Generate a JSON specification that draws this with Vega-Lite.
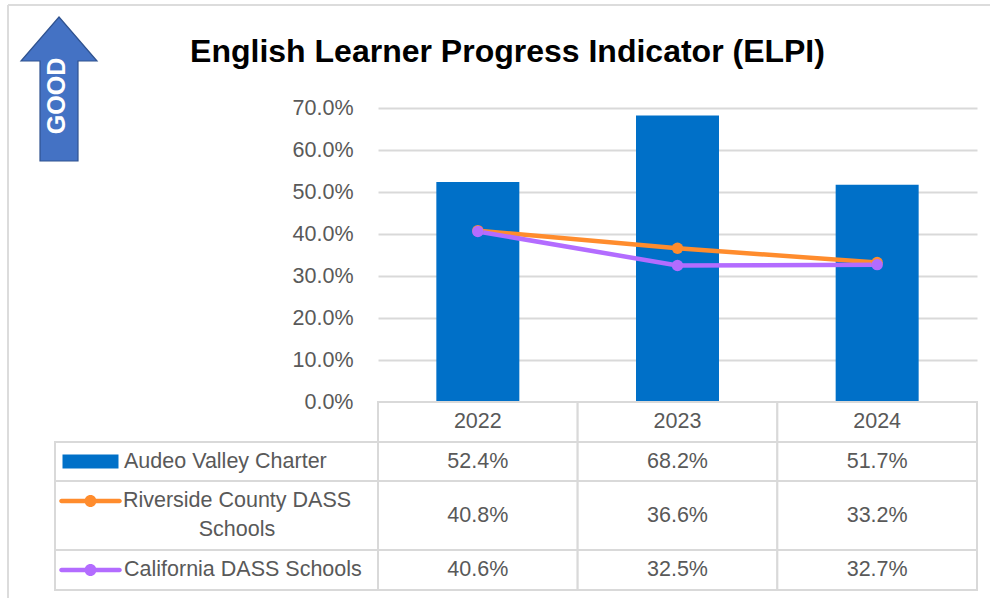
{
  "$schema": "https://vega.github.io/schema/vega-lite/v6.json",
  "autosize": {"type": "pad"},
  "padding": {"left": 7, "top": 4, "right": 0, "bottom": 0},
  "background": "white",
  "datasets": {
    "elpi": [
      {"year": "2022", "series": "Audeo Valley Charter", "value": 0.524},
      {"year": "2023", "series": "Audeo Valley Charter", "value": 0.682},
      {"year": "2024", "series": "Audeo Valley Charter", "value": 0.517},
      {"year": "2022", "series": "Riverside County DASS Schools", "value": 0.408},
      {"year": "2023", "series": "Riverside County DASS Schools", "value": 0.366},
      {"year": "2024", "series": "Riverside County DASS Schools", "value": 0.332},
      {"year": "2022", "series": "California DASS Schools", "value": 0.406},
      {"year": "2023", "series": "California DASS Schools", "value": 0.325},
      {"year": "2024", "series": "California DASS Schools", "value": 0.327}
    ]
  },
  "columns": 2,
  "spacing": 0,
  "bounds": "flush",
  "align": "each",
  "concat": [
    {
      "width": 323, "height": 294,
      "data": {"values": [{"label": "GOOD"}]},
      "layer": [
        {"mark": {"type": "rule", "stroke": "#dcdcdc", "strokeWidth": 2, "strokeCap": "butt"}, "encoding": {"x": {"value": -47}, "y": {"value": -103}, "y2": {"value": 490}}},
        {"mark": {"type": "rule", "stroke": "#dcdcdc", "strokeWidth": 2, "strokeCap": "butt"}, "encoding": {"x": {"value": -47}, "x2": {"value": 935}, "y": {"value": -103}}},
        {"mark": {"type": "point", "shape": "M0,-72L38,-28L19,-28L19,72L-19,72L-19,-28L-38,-28Z", "size": 4, "filled": true, "fill": "#4472C4", "stroke": "#2F528F", "strokeWidth": 1.2, "opacity": 1}, "encoding": {"x": {"value": 4}, "y": {"value": -19}}},
        {"mark": {"type": "text", "angle": 270, "fontSize": 25, "fontWeight": "bold", "color": "white", "font": "Liberation Sans", "baseline": "middle", "align": "center"}, "encoding": {"x": {"value": 1.5}, "y": {"value": -12}, "text": {"field": "label"}}}
      ]
    },
    {
      "width": 599, "height": 294,
      "title": {"text": "English Learner Progress Indicator (ELPI)", "font": "Liberation Sans", "fontSize": 32, "fontWeight": "bold", "color": "#000000", "anchor": "middle", "dx": -170, "offset": 3, "baseline": "alphabetic"},
      "data": {"name": "elpi"},
      "encoding": {
        "x": {"field": "year", "type": "nominal", "scale": {"paddingInner": 0.5843, "paddingOuter": 0.2922}, "axis": null},
        "y": {"field": "value", "type": "quantitative", "scale": {"domain": [0, 0.7], "nice": false},
              "axis": {"values": [0, 0.1, 0.2, 0.3, 0.4, 0.5, 0.6, 0.7], "format": ".1%", "title": null, "domain": false, "ticks": false, "labelFontSize": 21.5, "labelColor": "#595959", "labelPadding": 25, "grid": true, "gridColor": "#d9d9d9", "gridWidth": 2}},
        "color": {"field": "series", "type": "nominal", "scale": {"domain": ["Audeo Valley Charter", "Riverside County DASS Schools", "California DASS Schools"], "range": ["#0070C8", "#FF8C2D", "#B36CFF"]}, "legend": null}
      },
      "layer": [
        {"transform": [{"filter": "datum.series === 'Audeo Valley Charter'"}], "mark": {"type": "bar"}},
        {"transform": [{"filter": "datum.series !== 'Audeo Valley Charter'"}], "mark": {"type": "line", "strokeWidth": 4.5}},
        {"transform": [{"filter": "datum.series !== 'Audeo Valley Charter'"}], "mark": {"type": "point", "filled": true, "size": 130, "opacity": 1}}
      ]
    },
    {
      "width": 323, "height": 40,
      "data": {"values": [{"label": ""}]},
      "mark": {"type": "text"},
      "encoding": {"text": {"field": "label"}}
    },
    {
      "width": 599, "height": 40,
      "data": {"name": "elpi"},
      "transform": [{"filter": "datum.series === 'Audeo Valley Charter'"}],
      "encoding": {
        "x": {"field": "year", "type": "nominal", "scale": {"padding": 0}, "axis": null},
        "y": {"field": "series", "type": "nominal", "scale": {"padding": 0}, "axis": null}
      },
      "layer": [
        {"mark": {"type": "rect", "fill": "white", "stroke": "#d9d9d9", "strokeWidth": 2}},
        {"mark": {"type": "text", "fontSize": 21.5, "color": "#595959", "font": "Liberation Sans"}, "encoding": {"text": {"field": "year"}}}
      ]
    },
    {
      "width": 323, "height": 39,
      "view": {"stroke": "#d9d9d9", "strokeWidth": 2},
      "data": {"name": "elpi"},
      "transform": [{"filter": "datum.series === 'Audeo Valley Charter' && datum.year === '2022'"}],
      "encoding": {"x": {"field": "series", "type": "nominal", "scale": {"type": "point", "align": 0.1099}, "axis": null}},
      "layer": [
        {"mark": {"type": "point", "shape": "M-28,-7H28V7H-28Z", "size": 4, "filled": true, "opacity": 1, "color": "#0070C8"}},
        {"mark": {"type": "text", "align": "left", "dx": 33.5, "fontSize": 21.5, "color": "#595959", "font": "Liberation Sans", "baseline": "middle"}, "encoding": {"text": {"field": "series"}}}
      ]
    },
    {
      "width": 599, "height": 39,
      "data": {"name": "elpi"},
      "transform": [{"filter": "datum.series === 'Audeo Valley Charter'"}],
      "encoding": {
        "x": {"field": "year", "type": "nominal", "scale": {"padding": 0}, "axis": null},
        "y": {"field": "series", "type": "nominal", "scale": {"padding": 0}, "axis": null}
      },
      "layer": [
        {"mark": {"type": "rect", "fill": "white", "stroke": "#d9d9d9", "strokeWidth": 2}},
        {"mark": {"type": "text", "fontSize": 21.5, "color": "#595959", "font": "Liberation Sans"}, "encoding": {"text": {"field": "value", "format": ".1%"}}}
      ]
    },
    {
      "width": 323, "height": 69,
      "view": {"stroke": "#d9d9d9", "strokeWidth": 2},
      "data": {"name": "elpi"},
      "transform": [{"filter": "datum.series === 'Riverside County DASS Schools' && datum.year === '2022'"}],
      "encoding": {"x": {"field": "series", "type": "nominal", "scale": {"type": "point", "align": 0.1099}, "axis": null}},
      "layer": [
        {"mark": {"type": "point", "shape": "M-29,-16.75H29A2.25,2.25 0 0 1 29,-12.25H-29A2.25,2.25 0 0 1 -29,-16.75Z M6,-14.5A6,6 0 1 1 -6,-14.5A6,6 0 1 1 6,-14.5Z", "size": 4, "filled": true, "opacity": 1, "color": "#FF8C2D"}},
        {"mark": {"type": "text", "align": "center", "dx": 146.5, "dy": -14.5, "fontSize": 21.5, "color": "#595959", "font": "Liberation Sans", "baseline": "middle", "lineHeight": 29}, "encoding": {"text": {"value": ["Riverside County DASS", "Schools"]}}}
      ]
    },
    {
      "width": 599, "height": 69,
      "data": {"name": "elpi"},
      "transform": [{"filter": "datum.series === 'Riverside County DASS Schools'"}],
      "encoding": {
        "x": {"field": "year", "type": "nominal", "scale": {"padding": 0}, "axis": null},
        "y": {"field": "series", "type": "nominal", "scale": {"padding": 0}, "axis": null}
      },
      "layer": [
        {"mark": {"type": "rect", "fill": "white", "stroke": "#d9d9d9", "strokeWidth": 2}},
        {"mark": {"type": "text", "fontSize": 21.5, "color": "#595959", "font": "Liberation Sans"}, "encoding": {"text": {"field": "value", "format": ".1%"}}}
      ]
    },
    {
      "width": 323, "height": 40,
      "view": {"stroke": "#d9d9d9", "strokeWidth": 2},
      "data": {"name": "elpi"},
      "transform": [{"filter": "datum.series === 'California DASS Schools' && datum.year === '2022'"}],
      "encoding": {"x": {"field": "series", "type": "nominal", "scale": {"type": "point", "align": 0.1099}, "axis": null}},
      "layer": [
        {"mark": {"type": "point", "shape": "M-29,-2.25H29A2.25,2.25 0 0 1 29,2.25H-29A2.25,2.25 0 0 1 -29,-2.25Z M6,0A6,6 0 1 1 -6,0A6,6 0 1 1 6,0Z", "size": 4, "filled": true, "opacity": 1, "color": "#B36CFF"}},
        {"mark": {"type": "text", "align": "left", "dx": 33.5, "fontSize": 21.5, "color": "#595959", "font": "Liberation Sans", "baseline": "middle"}, "encoding": {"text": {"field": "series"}}}
      ]
    },
    {
      "width": 599, "height": 40,
      "data": {"name": "elpi"},
      "transform": [{"filter": "datum.series === 'California DASS Schools'"}],
      "encoding": {
        "x": {"field": "year", "type": "nominal", "scale": {"padding": 0}, "axis": null},
        "y": {"field": "series", "type": "nominal", "scale": {"padding": 0}, "axis": null}
      },
      "layer": [
        {"mark": {"type": "rect", "fill": "white", "stroke": "#d9d9d9", "strokeWidth": 2}},
        {"mark": {"type": "text", "fontSize": 21.5, "color": "#595959", "font": "Liberation Sans"}, "encoding": {"text": {"field": "value", "format": ".1%"}}}
      ]
    }
  ],
  "config": {
    "view": {"stroke": null},
    "font": "Liberation Sans",
    "axis": {"labelFont": "Liberation Sans"}
  }
}
